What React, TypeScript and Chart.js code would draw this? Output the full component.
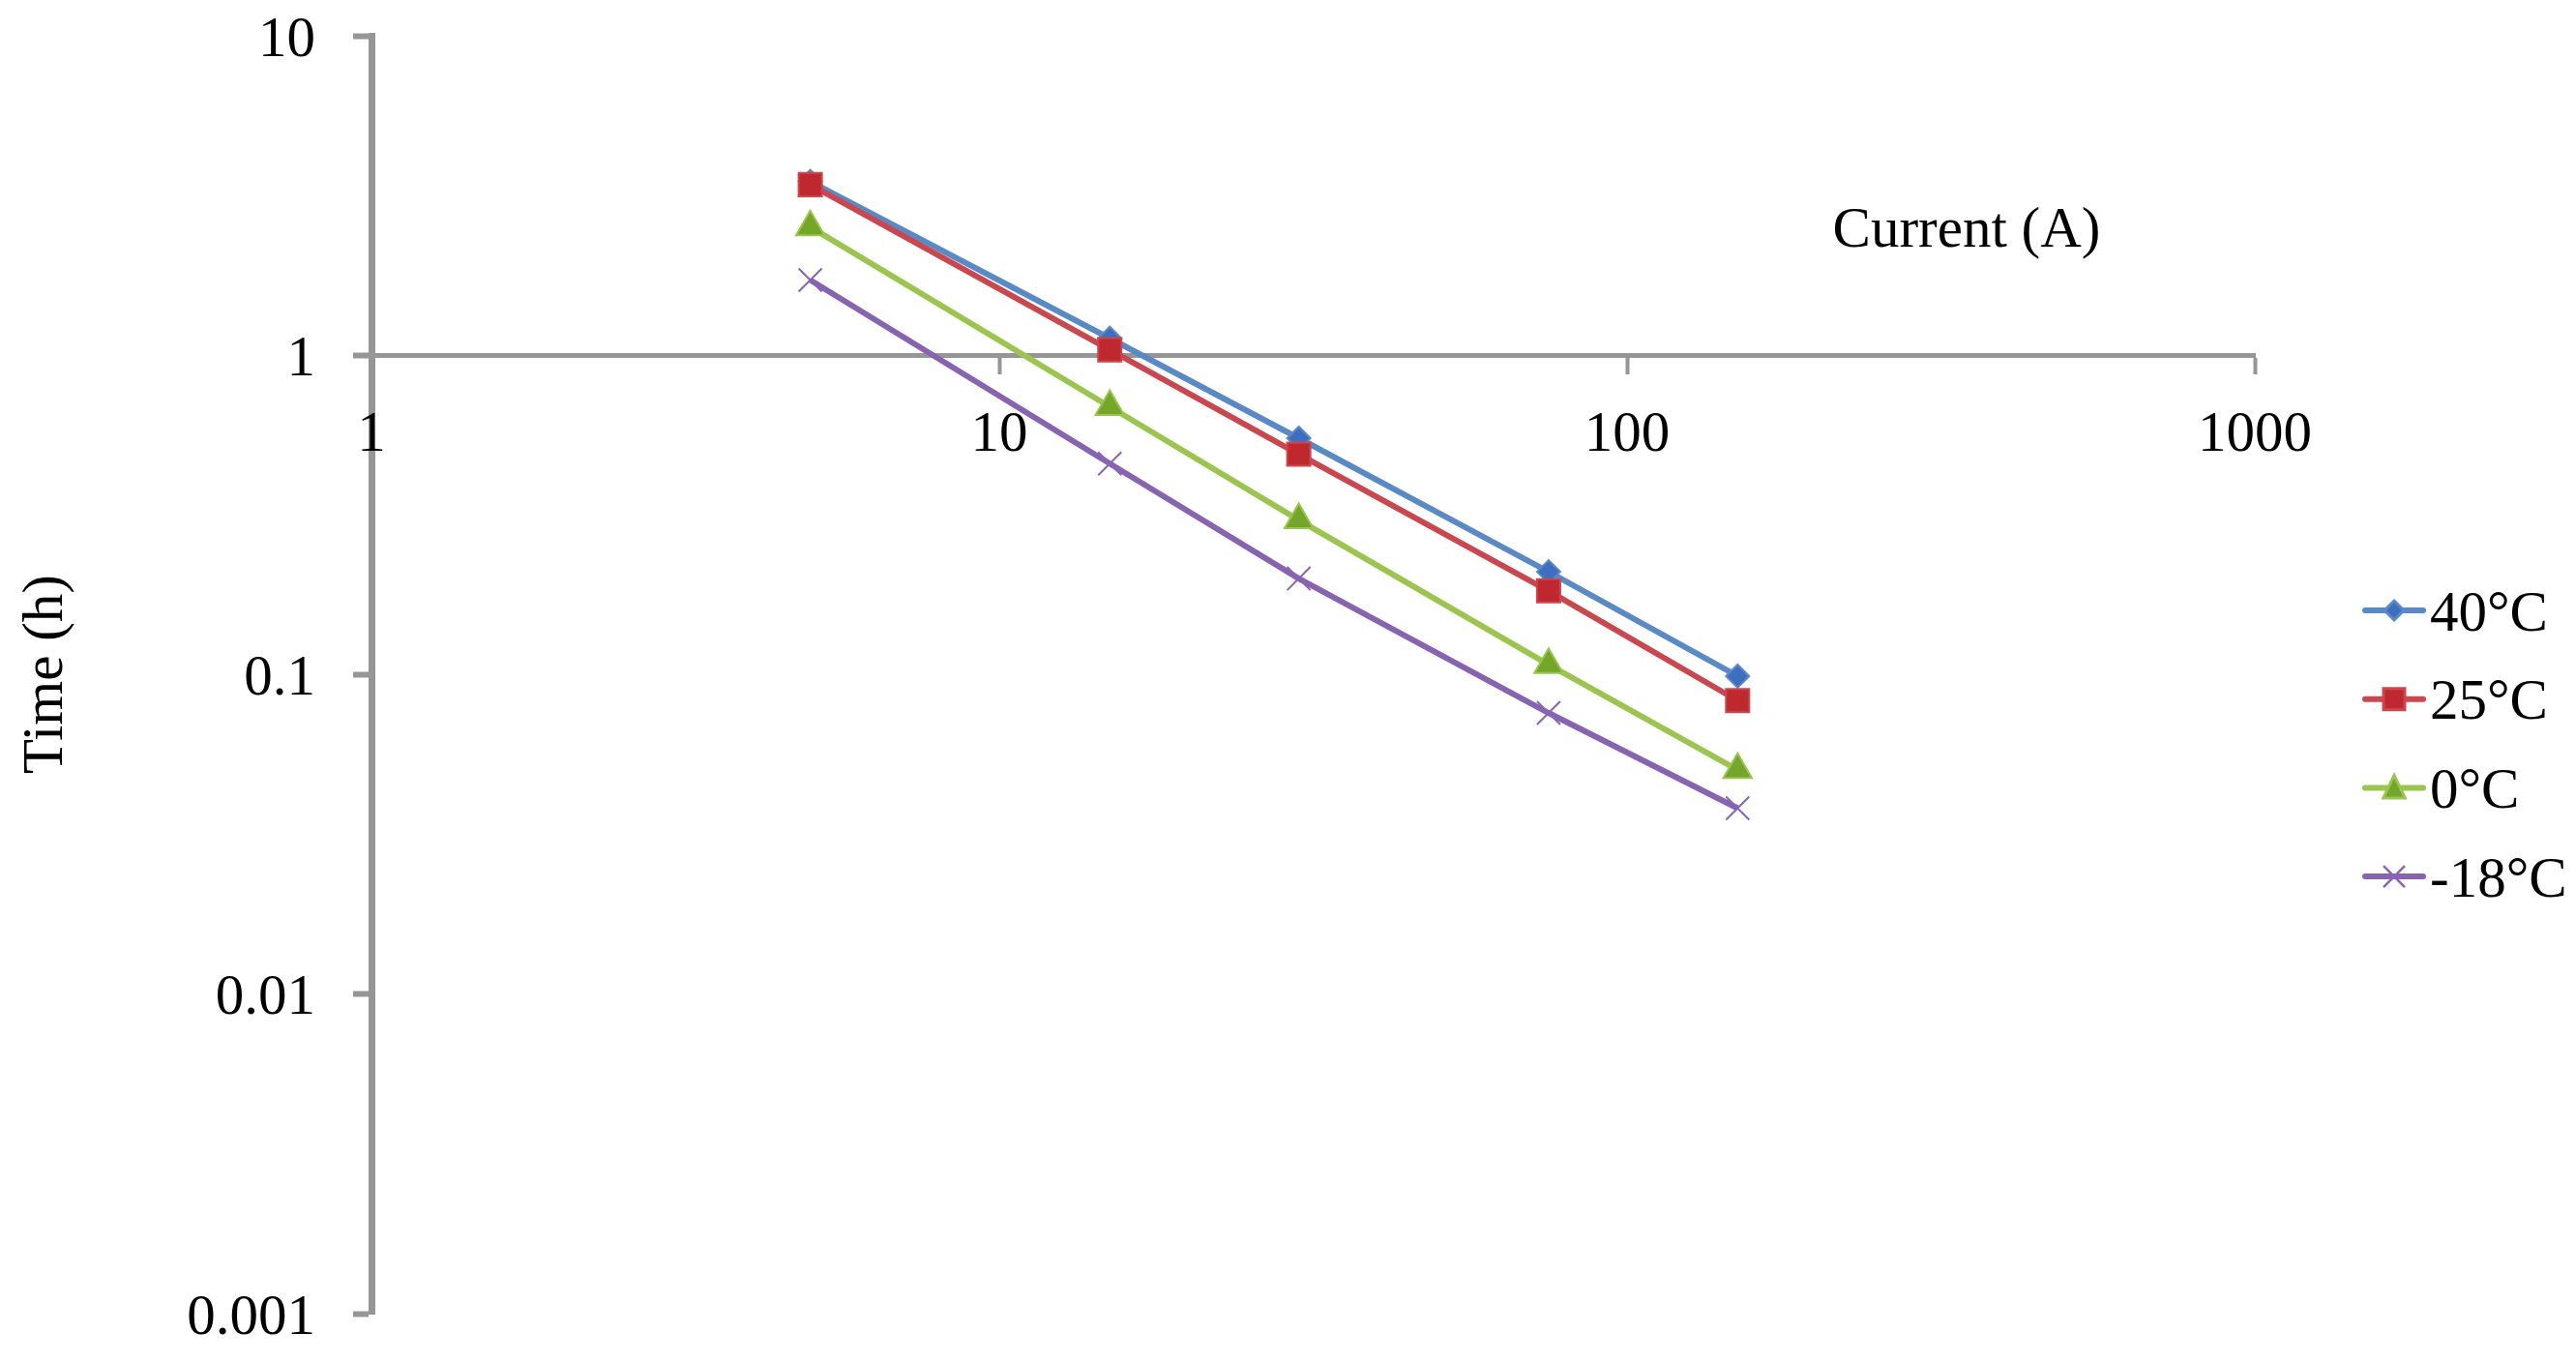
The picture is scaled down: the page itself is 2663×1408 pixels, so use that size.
import React, { useEffect, useRef } from 'react';
import { Chart, registerables } from 'chart.js';

Chart.register(...registerables);

// ---- data ----
const currents = [5, 15, 30, 75, 150];
const time40 = [3.5, 1.13, 0.55, 0.21, 0.099];
const time25 = [3.42, 1.04, 0.49, 0.183, 0.083];
const time0 = [2.52, 0.69, 0.305, 0.1075, 0.0504];
const timeM18 = [1.72, 0.458, 0.2, 0.0759, 0.0382];
const seriesNames = ['40°C', '25°C', '0°C', '-18°C'];
const xTickValues = [1, 10, 100, 1000];
const xTickLabels = ['1', '10', '100', '1000'];
const yTickValues = [0.001, 0.01, 0.1, 1, 10];
const yTickLabels = ['0.001', '0.01', '0.1', '1', '10'];
const xTitle = 'Current (A)';
const yTitle = 'Time (h)';

// ---- styles ----
const W = 2663;
const H = 1408;
const FONT = '"Liberation Serif", "Times New Roman", serif';
const FS = 59;
const AXIS = '#969696';
const styles = [
  { line: '#5A8AC6', fill: '#3F6EC0', border: '#5A8AC6', shape: 'rectRot', r: 12 },
  { line: '#C9484F', fill: '#C0282F', border: '#C9484F', shape: 'rect', r: 17 },
  { line: '#9BC54E', fill: '#74A62A', border: '#9BC54E', shape: 'triangle', r: 17 },
  { line: '#8763B0', fill: '#8A64B4', border: '#8A64B4', shape: 'crossRot', r: 17 },
];

function drawLegendMarker(ctx: CanvasRenderingContext2D, shape: string, x: number, y: number, fill: string, border: string) {
  ctx.save();
  ctx.fillStyle = fill;
  ctx.strokeStyle = border;
  ctx.lineWidth = 3;
  ctx.beginPath();
  if (shape === 'rectRot') {
    const r = 10;
    ctx.moveTo(x, y - r);
    ctx.lineTo(x + r, y);
    ctx.lineTo(x, y + r);
    ctx.lineTo(x - r, y);
    ctx.closePath();
    ctx.fill();
    ctx.stroke();
  } else if (shape === 'rect') {
    const s = 11;
    ctx.rect(x - s, y - s, 2 * s, 2 * s);
    ctx.fill();
    ctx.stroke();
  } else if (shape === 'triangle') {
    const r = 13;
    ctx.moveTo(x, y - r);
    ctx.lineTo(x + r * 0.866, y + r * 0.5 + 4);
    ctx.lineTo(x - r * 0.866, y + r * 0.5 + 4);
    ctx.closePath();
    ctx.fill();
    ctx.stroke();
  } else {
    const a = 11;
    ctx.lineWidth = 2.5;
    ctx.moveTo(x - a, y - a);
    ctx.lineTo(x + a, y + a);
    ctx.moveTo(x + a, y - a);
    ctx.lineTo(x - a, y + a);
    ctx.stroke();
  }
  ctx.restore();
}

const overlayPlugin = {
  id: 'overlay',
  afterDraw(chart: any) {
    const ctx: CanvasRenderingContext2D = chart.ctx;
    ctx.save();
    ctx.fillStyle = '#000';
    ctx.font = `${FS}px ${FONT}`;
    // x axis title (placed inside plot, upper right)
    ctx.textAlign = 'center';
    ctx.textBaseline = 'alphabetic';
    ctx.fillText(xTitle, 2033, 255);
    // y axis title
    ctx.save();
    ctx.translate(48, 697);
    ctx.rotate(-Math.PI / 2);
    ctx.textAlign = 'center';
    ctx.textBaseline = 'middle';
    ctx.fillText(yTitle, 0, 0);
    ctx.restore();
    // legend
    chart.data.datasets.forEach((ds: any, i: number) => {
      const st = styles[i];
      const y = 631 + i * 91.7;
      ctx.save();
      ctx.strokeStyle = st.line;
      ctx.lineWidth = 6;
      ctx.lineCap = 'round';
      ctx.beginPath();
      ctx.moveTo(2445, y);
      ctx.lineTo(2505, y);
      ctx.stroke();
      ctx.restore();
      drawLegendMarker(ctx, st.shape, 2475, y, st.fill, st.border);
      ctx.fillStyle = '#000';
      ctx.textAlign = 'left';
      ctx.textBaseline = 'middle';
      ctx.fillText(ds.label, 2512, y + 5);
    });
    ctx.restore();
  },
};

const bgPlugin = {
  id: 'bg',
  beforeDraw(chart: any) {
    const ctx = chart.ctx;
    ctx.save();
    ctx.fillStyle = '#ffffff';
    ctx.fillRect(0, 0, chart.width, chart.height);
    ctx.restore();
  },
};

export default function App() {
  const canvasRef = useRef<HTMLCanvasElement | null>(null);

  useEffect(() => {
    if (!canvasRef.current) return;
    const seriesValues = [time40, time25, time0, timeM18];
    const datasets = seriesValues.map((vals, i) => ({
      label: seriesNames[i],
      data: currents.map((c, j) => ({ x: c, y: vals[j] })),
      borderColor: styles[i].line,
      backgroundColor: styles[i].fill,
      borderWidth: 6,
      tension: 0,
      pointStyle: styles[i].shape as any,
      pointRadius: styles[i].r,
      pointBackgroundColor: styles[i].fill,
      pointBorderColor: styles[i].border,
      pointBorderWidth: 2,
      order: 4 - i,
    }));

    const chart = new Chart(canvasRef.current, {
      type: 'line',
      data: { datasets },
      options: {
        animation: false,
        responsive: false,
        devicePixelRatio: 1,
        font: { family: FONT, size: FS },
        layout: { padding: { left: 0, top: 37, right: 332, bottom: 50 } },
        plugins: { legend: { display: false }, tooltip: { enabled: false } },
        scales: {
          x: {
            type: 'logarithmic',
            min: 1,
            max: 1000,
            position: { y: 1 } as any,
            afterBuildTicks: (scale: any) => {
              scale.ticks = xTickValues.map((v) => ({ value: v }));
            },
            ticks: {
              color: '#000',
              font: { family: FONT, size: FS },
              padding: 31,
              maxRotation: 0,
              autoSkip: false,
              z: 1,
              callback: (value: any) => {
                const idx = xTickValues.indexOf(Number(value));
                return idx >= 0 ? xTickLabels[idx] : '';
              },
            } as any,
            grid: {
              drawOnChartArea: false,
              drawTicks: true,
              tickLength: 17,
              tickWidth: 4,
              tickColor: AXIS,
              color: AXIS,
            } as any,
            border: { display: true, color: AXIS, width: 5 },
          },
          y: {
            type: 'logarithmic',
            min: 0.001,
            max: 10,
            position: 'left',
            afterFit: (scale: any) => {
              scale.width = 384;
              scale.paddingTop = 0;
              scale.paddingBottom = 0;
            },
            afterBuildTicks: (scale: any) => {
              scale.ticks = yTickValues.map((v) => ({ value: v }));
            },
            ticks: {
              color: '#000',
              font: { family: FONT, size: FS },
              padding: 39,
              labelOffset: 5,
              autoSkip: false,
              callback: (value: any) => {
                const idx = yTickValues.indexOf(Number(value));
                return idx >= 0 ? yTickLabels[idx] : '';
              },
            },
            grid: {
              drawOnChartArea: false,
              drawTicks: true,
              tickLength: 19,
              tickWidth: 6,
              tickColor: AXIS,
              color: AXIS,
            } as any,
            border: { display: true, color: AXIS, width: 7 },
          },
        },
      },
      plugins: [bgPlugin, overlayPlugin],
    });

    return () => {
      chart.destroy();
    };
  }, []);

  return (
    <div style={{ position: 'fixed', left: 0, top: 0, width: W, height: H, background: '#fff' }}>
      <canvas ref={canvasRef} width={W} height={H} style={{ display: 'block', width: W, height: H }} />
    </div>
  );
}
